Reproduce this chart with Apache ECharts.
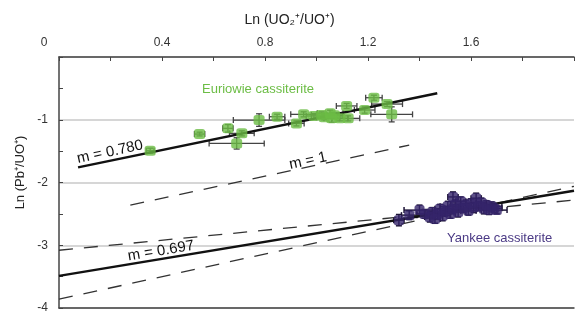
<!DOCTYPE html>
<html>
<head>
<meta charset="utf-8">
<script src="https://cdn.jsdelivr.net/npm/echarts/dist/echarts.min.js"></script>
<style>
  html, body { margin: 0; padding: 0; background: #fff; }
  #main { width: 577px; height: 320px; }
</style>
</head>
<body>
<div id="main"></div>
<script>
// tick labels shown on the axes
const xTickLabels = ['0', '0.4', '0.8', '1.2', '1.6'];
const yTickLabels = ['-1', '-2', '-3', '-4'];

// [x, y, xErr, yErr]
const euriowie = [
  [0.354, -1.494, 0.015, 0.04],
  [0.546, -1.228, 0.02, 0.03],
  [0.656, -1.137, 0.02, 0.06],
  [0.710, -1.217, 0.048, 0.04],
  [0.690, -1.377, 0.107, 0.09],
  [0.777, -1.005, 0.10, 0.10],
  [0.847, -0.952, 0.03, 0.04],
  [0.922, -1.058, 0.03, 0.04],
  [0.950, -0.914, 0.05, 0.04],
  [0.990, -0.940, 0.03, 0.04],
  [1.020, -0.925, 0.04, 0.05],
  [1.030, -0.960, 0.03, 0.04],
  [1.053, -0.898, 0.05, 0.05],
  [1.059, -0.978, 0.03, 0.06],
  [1.070, -0.930, 0.03, 0.04],
  [1.091, -0.978, 0.03, 0.04],
  [1.123, -0.978, 0.045, 0.04],
  [1.117, -0.780, 0.04, 0.04],
  [1.187, -0.845, 0.04, 0.05],
  [1.223, -0.649, 0.032, 0.04],
  [1.274, -0.750, 0.06, 0.04],
  [1.292, -0.914, 0.081, 0.12]
];

const yankee = [
  [1.32, -2.60, 0.02, 0.09],
  [1.36, -2.52, 0.03, 0.07],
  [1.40, -2.44, 0.06, 0.08],
  [1.42, -2.50, 0.03, 0.07],
  [1.44, -2.55, 0.02, 0.08],
  [1.45, -2.47, 0.03, 0.07],
  [1.46, -2.58, 0.02, 0.07],
  [1.47, -2.50, 0.03, 0.08],
  [1.48, -2.42, 0.02, 0.07],
  [1.49, -2.53, 0.03, 0.08],
  [1.50, -2.46, 0.02, 0.07],
  [1.51, -2.38, 0.03, 0.08],
  [1.52, -2.50, 0.02, 0.07],
  [1.53, -2.23, 0.02, 0.08],
  [1.53, -2.42, 0.03, 0.07],
  [1.54, -2.35, 0.02, 0.07],
  [1.55, -2.47, 0.03, 0.08],
  [1.56, -2.30, 0.02, 0.07],
  [1.57, -2.41, 0.03, 0.07],
  [1.58, -2.36, 0.02, 0.08],
  [1.59, -2.45, 0.03, 0.07],
  [1.60, -2.33, 0.02, 0.07],
  [1.61, -2.40, 0.03, 0.08],
  [1.62, -2.25, 0.02, 0.08],
  [1.63, -2.38, 0.03, 0.07],
  [1.64, -2.32, 0.02, 0.07],
  [1.65, -2.42, 0.03, 0.08],
  [1.66, -2.36, 0.02, 0.07],
  [1.67, -2.44, 0.03, 0.07],
  [1.68, -2.38, 0.04, 0.07],
  [1.69, -2.41, 0.03, 0.07],
  [1.70, -2.44, 0.04, 0.06]
];

// fitted / reference lines, end points in data units
const euriowieFit = [[0.074, -1.759], [1.469, -0.579]];
const euriowieSlope1 = [[0.277, -2.36], [1.36, -1.404]];
const yankeeFit = [[0, -3.488], [2.0, -2.13]];
const yankeeUpper = [[0, -3.08], [2.0, -2.28]];
const yankeeLower = [[0, -3.86], [2.0, -2.06]];

const green = '#6cbd45';
const purple = '#35246a';
const FONT = '"Liberation Sans", Arial, sans-serif';

function errorBars(color, width) {
  return function (params, api) {
    const x = api.value(0), y = api.value(1), ex = api.value(2), ey = api.value(3);
    const l = api.coord([x - ex, y]), r = api.coord([x + ex, y]);
    const b = api.coord([x, y - ey]), t = api.coord([x, y + ey]);
    const cap = 3;
    const style = { stroke: color, lineWidth: width };
    const seg = (x1, y1, x2, y2) => ({ type: 'line', shape: { x1, y1, x2, y2 }, style });
    return {
      type: 'group',
      children: [
        seg(l[0], l[1], r[0], r[1]),
        seg(l[0], l[1] - cap, l[0], l[1] + cap),
        seg(r[0], r[1] - cap, r[0], r[1] + cap),
        seg(b[0], b[1], t[0], t[1]),
        seg(b[0] - cap, b[1], b[0] + cap, b[1]),
        seg(t[0] - cap, t[1], t[0] + cap, t[1])
      ]
    };
  };
}

function lineSeries(data, dashed, width) {
  return {
    type: 'line',
    data: data,
    showSymbol: false,
    silent: true,
    z: 3,
    lineStyle: { color: dashed ? '#333' : '#111', width: width, type: dashed ? [14, 11] : 'solid' }
  };
}

const myChart = echarts.init(document.getElementById('main'));
const option = {
  animation: false,
  textStyle: { fontFamily: FONT },
  grid: { left: 59, right: 0, top: 57, bottom: 12 },
  xAxis: [
    {
      type: 'value',
      position: 'top',
      min: 0,
      max: 2,
      interval: 0.4,
      name: 'Ln (UO₂⁺/UO⁺)',
      nameLocation: 'middle',
      nameGap: 30,
      nameTextStyle: { fontSize: 14, color: '#222', fontFamily: FONT, padding: [0, 54, 0, 0] },
      axisLine: { lineStyle: { color: '#444', width: 1.5 } },
      axisTick: { inside: true, length: 4, lineStyle: { color: '#444' } },
      minorTick: { show: true, splitNumber: 2, length: 4, lineStyle: { color: '#444' } },
      splitLine: { show: false },
      axisLabel: {
        margin: 8,
        fontSize: 12,
        color: '#333',
        rich: { first: { fontSize: 12, color: '#333', padding: [0, 30, 0, 0] } },
        formatter: function (v) {
          const s = String(Math.round(v * 10) / 10);
          if (xTickLabels.indexOf(s) < 0) return '';
          return v === 0 ? '{first|' + s + '}' : s;
        }
      }
    },
    {
      type: 'value',
      position: 'bottom',
      min: 0,
      max: 2,
      axisLine: { show: true, onZero: false, lineStyle: { color: '#444', width: 1.5 } },
      axisTick: { show: false },
      axisLabel: { show: false },
      splitLine: { show: false }
    }
  ],
  yAxis: {
    type: 'value',
    min: -4,
    max: 0,
    interval: 1,
    name: 'Ln (Pb⁺/UO⁺)',
    nameLocation: 'middle',
    nameGap: 31,
    nameTextStyle: { fontSize: 13, color: '#222', fontFamily: FONT, padding: [0, 0, 0, 20] },
    axisLine: { show: true, onZero: false, lineStyle: { color: '#444', width: 1.5 } },
    axisTick: { show: true, inside: true, length: 4, lineStyle: { color: '#444' } },
    minorTick: { show: true, splitNumber: 2, length: 4, lineStyle: { color: '#444' } },
    splitLine: { show: true, lineStyle: { color: '#c8c8c8', width: 1.5 } },
    axisLabel: {
      margin: 11,
      fontSize: 12,
      color: '#333',
      formatter: function (v) {
        const s = String(Math.round(v));
        return yTickLabels.indexOf(s) >= 0 ? s : '';
      }
    }
  },
  series: [
    lineSeries(euriowieSlope1, true, 1.3),
    lineSeries(yankeeUpper, true, 1.3),
    lineSeries(yankeeLower, true, 1.3),
    {
      type: 'custom',
      renderItem: errorBars('#444', 1.3),
      data: euriowie,
      encode: { x: 0, y: 1 },
      z: 2,
      silent: true
    },
    {
      type: 'custom',
      renderItem: errorBars('#1e1538', 1.5),
      data: yankee,
      encode: { x: 0, y: 1 },
      z: 2,
      silent: true
    },
    lineSeries(euriowieFit, false, 2.5),
    lineSeries(yankeeFit, false, 2.5),
    {
      type: 'scatter',
      data: euriowie.map(d => [d[0], d[1]]),
      symbol: 'roundRect',
      symbolSize: [11, 10],
      itemStyle: { color: green },
      z: 4
    },
    {
      type: 'scatter',
      data: yankee.map(d => [d[0], d[1]]),
      symbol: 'roundRect',
      symbolSize: [10, 10],
      itemStyle: { color: purple },
      z: 4
    }
  ],
  graphic: [
    { type: 'text', x: 202, y: 89, z: 10,
      style: { text: 'Euriowie cassiterite', fill: green, font: '13px ' + FONT, textAlign: 'left', textVerticalAlign: 'middle', align: 'left', verticalAlign: 'middle' } },
    { type: 'text', x: 447, y: 238, z: 10,
      style: { text: 'Yankee cassiterite', fill: '#4b3a85', font: '13px ' + FONT, textAlign: 'left', textVerticalAlign: 'middle', align: 'left', verticalAlign: 'middle' } },
    { type: 'text', x: 110, y: 152, rotation: 12 * Math.PI / 180, z: 10,
      style: { text: 'm = 0.780', fill: '#111', font: '15px ' + FONT, textAlign: 'center', textVerticalAlign: 'middle', align: 'center', verticalAlign: 'middle' } },
    { type: 'text', x: 308, y: 161, rotation: 12 * Math.PI / 180, z: 10,
      style: { text: 'm = 1', fill: '#111', font: '15px ' + FONT, textAlign: 'center', textVerticalAlign: 'middle', align: 'center', verticalAlign: 'middle' } },
    { type: 'text', x: 161, y: 251, rotation: 9.3 * Math.PI / 180, z: 10,
      style: { text: 'm = 0.697', fill: '#111', font: '15px ' + FONT, textAlign: 'center', textVerticalAlign: 'middle', align: 'center', verticalAlign: 'middle' } }
  ]
};
myChart.setOption(option);
</script>
</body>
</html>
